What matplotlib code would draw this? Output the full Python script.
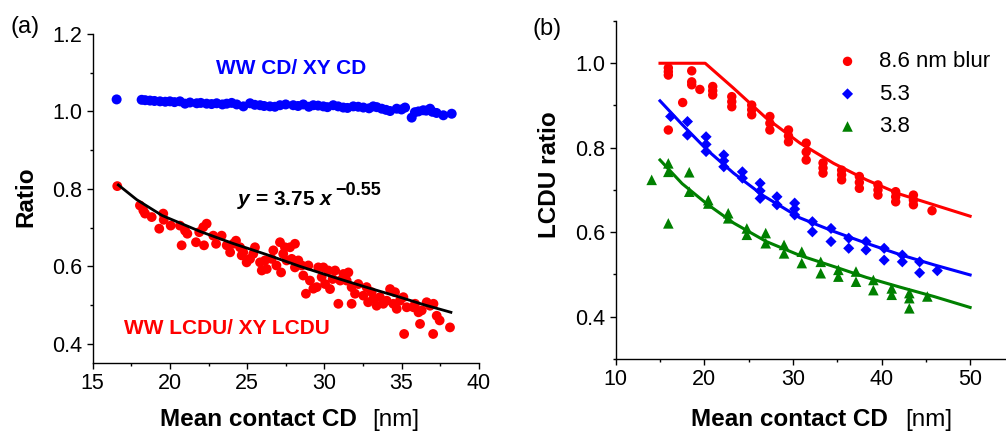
import matplotlib
matplotlib.use("Agg")
import matplotlib.pyplot as plt
from matplotlib.ticker import MultipleLocator

plt.rcParams['font.family'] = ['Liberation Sans', 'DejaVu Sans']
plt.rcParams['mathtext.fontset'] = 'custom'
plt.rcParams['mathtext.rm'] = 'Liberation Sans:bold'
plt.rcParams['mathtext.it'] = 'Liberation Sans:italic:bold'
plt.rcParams['mathtext.bf'] = 'Liberation Sans:bold'

# ---- panel (a) data ----
blue_x = [16.55, 18.17, 18.71, 19.36, 20.0, 20.65, 20.98, 21.74, 22.38, 23.03, 23.68,
          24.33, 24.76, 25.19, 25.84, 26.48, 27.13, 27.99, 28.64, 29.29, 29.94, 30.58,
          31.23, 31.88, 32.53, 33.17, 33.72, 34.26, 34.69, 35.23, 35.66, 35.87, 36.41,
          36.85, 37.27, 37.71, 38.25,
          18.4, 19.0, 19.7, 20.3, 21.3, 22.0, 22.7, 23.4, 24.0, 25.5, 26.1, 26.8, 27.5,
          28.3, 29.0, 29.6, 30.2, 30.9, 31.5, 32.2, 32.9, 33.4, 34.0, 35.0, 36.1, 36.6, 37.0]
blue_y = [1.031, 1.030, 1.028, 1.026, 1.026, 1.026, 1.020, 1.021, 1.020, 1.021, 1.020,
          1.018, 1.013, 1.021, 1.016, 1.013, 1.016, 1.016, 1.018, 1.016, 1.013, 1.016,
          1.010, 1.013, 1.010, 1.013, 1.007, 1.001, 1.007, 1.010, 0.984, 0.998, 1.003,
          1.007, 0.996, 0.990, 0.994,
          1.029, 1.027, 1.025, 1.024, 1.023, 1.022, 1.019, 1.018, 1.022, 1.017, 1.014,
          1.012, 1.018, 1.014, 1.012, 1.015, 1.011, 1.013, 1.009, 1.012, 1.008, 1.011,
          1.004, 1.005, 1.000, 1.002, 0.999]

red_x = [16.59, 18.06, 18.28, 18.39, 18.82, 19.31, 19.57, 19.6, 20.05, 20.65, 20.76,
         20.98, 21.13, 21.69, 21.9, 22.16, 22.38, 22.21, 22.81, 22.99, 23.35, 23.68,
         23.9, 24.1, 24.28, 24.54, 24.65, 24.75, 24.97, 25.19, 25.4, 25.51, 25.84,
         25.95, 26.16, 26.27, 26.59, 26.7, 26.9, 27.13, 27.2, 27.34, 27.45, 27.56,
         27.78, 27.89, 28.1, 28.1, 28.32, 28.54, 28.64, 28.81, 28.97, 29.07, 29.29,
         29.51, 29.61, 29.83, 29.94, 30.05, 30.26, 30.37, 30.54, 30.7, 30.91, 31.03,
         31.24, 31.45, 31.56, 31.77, 31.77, 31.99, 32.2, 32.53, 32.74, 32.84, 33.07,
         33.18, 33.39, 33.6, 33.82, 34.04, 34.26, 34.47, 34.58, 34.69, 34.9, 35.12,
         35.17, 35.34, 35.77, 35.88, 36.1, 36.2, 36.31, 36.63, 36.85, 37.05, 37.07,
         37.28, 37.47, 38.14]
red_y = [0.807, 0.757, 0.744, 0.736, 0.727, 0.697, 0.736, 0.720, 0.705, 0.705, 0.654,
         0.692, 0.684, 0.662, 0.688, 0.701, 0.710, 0.654, 0.679, 0.658, 0.679, 0.654,
         0.636, 0.658, 0.666, 0.649, 0.628, 0.636, 0.610, 0.619, 0.632, 0.649, 0.610,
         0.589, 0.615, 0.593, 0.619, 0.641, 0.602, 0.662, 0.584, 0.632, 0.649, 0.615,
         0.649, 0.619, 0.658, 0.597, 0.615, 0.602, 0.576, 0.529, 0.602, 0.563, 0.542,
         0.546, 0.597, 0.572, 0.597, 0.554, 0.589, 0.541, 0.567, 0.589, 0.503, 0.563,
         0.580, 0.563, 0.584, 0.503, 0.546, 0.529, 0.554, 0.524, 0.546, 0.507, 0.533,
         0.516, 0.498, 0.520, 0.503, 0.511, 0.541, 0.503, 0.533, 0.490, 0.511, 0.520,
         0.425, 0.494, 0.494, 0.503, 0.481, 0.451, 0.486, 0.507, 0.498, 0.425, 0.503,
         0.472, 0.460, 0.442]

fit_x = [16.66, 17.85, 19.5, 21.95, 24.0, 26.27, 28.4, 30.58, 32.7, 34.9, 36.5, 38.2]
fit_y = [0.810, 0.772, 0.731, 0.690, 0.660, 0.630, 0.600, 0.572, 0.546, 0.520, 0.500, 0.481]

# ---- panel (b) data ----
r_x = [15.94, 15.94, 15.94, 15.94, 17.56, 18.58, 18.58, 18.58, 19.5, 20.95, 20.95, 20.95,
       23.1, 23.1, 23.1, 25.35, 25.35, 25.35, 27.4, 27.4, 27.4, 29.5, 29.5, 29.5,
       31.5, 31.5, 31.5, 33.4, 33.4, 33.4, 35.5, 35.5, 35.5, 37.5, 37.5, 37.5,
       39.6, 39.6, 39.6, 41.6, 41.6, 41.6, 43.6, 43.6, 43.6, 45.7]
r_y = [0.989, 0.980, 0.972, 0.842, 0.907, 0.982, 0.956, 0.949, 0.938, 0.945, 0.935, 0.925,
       0.921, 0.909, 0.897, 0.901, 0.890, 0.878, 0.874, 0.858, 0.842, 0.842, 0.828, 0.814,
       0.811, 0.790, 0.771, 0.764, 0.752, 0.740, 0.747, 0.736, 0.724, 0.732, 0.718, 0.704,
       0.712, 0.700, 0.688, 0.696, 0.684, 0.672, 0.688, 0.676, 0.665, 0.651]
b_x = [16.2, 18.1, 18.1, 20.2, 20.2, 20.2, 22.2, 22.2, 22.2, 24.3, 24.3, 26.3, 26.3, 26.3,
       28.2, 28.2, 30.2, 30.2, 30.2, 32.2, 32.2, 34.3, 34.3, 36.3, 36.3, 38.25, 38.25,
       40.3, 40.3, 42.35, 42.35, 44.3, 44.3, 46.3]
b_y = [0.874, 0.862, 0.830, 0.826, 0.808, 0.791, 0.783, 0.769, 0.755, 0.743, 0.728, 0.716,
       0.698, 0.680, 0.684, 0.665, 0.669, 0.655, 0.641, 0.625, 0.601, 0.609, 0.578, 0.586,
       0.562, 0.578, 0.558, 0.562, 0.534, 0.546, 0.530, 0.530, 0.504, 0.509]
g_x = [14.06, 15.94, 15.94, 15.94, 18.3, 18.3, 20.45, 20.45, 22.7, 22.7, 24.8, 24.8,
       26.93, 26.93, 29.0, 29.0, 31.0, 31.0, 33.14, 33.14, 35.13, 35.13, 37.12, 37.12,
       39.08, 39.08, 41.15, 41.15, 43.14, 43.14, 43.14, 45.17]
g_y = [0.724, 0.763, 0.743, 0.621, 0.742, 0.696, 0.676, 0.668, 0.645, 0.633, 0.609, 0.594,
       0.598, 0.574, 0.570, 0.550, 0.554, 0.527, 0.530, 0.503, 0.511, 0.495, 0.507, 0.483,
       0.487, 0.463, 0.467, 0.452, 0.456, 0.444, 0.420, 0.448]

r_fit_x = [15.0, 20.1, 23.3, 27.0, 30.8, 34.6, 38.3, 42.1, 45.9, 50.0]
r_fit_y = [1.000, 1.000, 0.941, 0.870, 0.811, 0.763, 0.724, 0.690, 0.665, 0.638]
b_fit_x = [15.0, 17.5, 20.3, 23.3, 26.7, 30.8, 34.6, 38.3, 42.1, 45.9, 50.0]
b_fit_y = [0.911, 0.855, 0.795, 0.740, 0.686, 0.634, 0.602, 0.574, 0.547, 0.523, 0.499]
g_fit_x = [15.0, 17.5, 20.3, 23.3, 27.0, 30.8, 34.6, 38.3, 42.1, 45.9, 50.0]
g_fit_y = [0.771, 0.715, 0.667, 0.622, 0.578, 0.545, 0.519, 0.493, 0.470, 0.448, 0.422]

legend_labels = ['8.6 nm blur', '5.3', '3.8']

RED, BLUE, GREEN = '#ff0000', '#0000ff', '#008000'

fig = plt.figure(figsize=(10.06, 4.32), dpi=100)
W, H = 1006, 432


def px_axes(l, t, r, b):
    return fig.add_axes([l / W, 1 - b / H, (r - l) / W, (b - t) / H])


def style(ax):
    for s in ('top', 'right'):
        ax.spines[s].set_visible(False)
    for s in ('left', 'bottom'):
        ax.spines[s].set_linewidth(1.0)
    ax.tick_params(which='major', direction='out', length=4.5, width=1.0, labelsize=15.5, pad=3)
    ax.tick_params(which='minor', direction='out', length=2.5, width=1.0)


# panel (a)
ax1 = px_axes(92.7, 34, 478.7, 363)
ax1.scatter(blue_x, blue_y, s=52, color=BLUE, edgecolors='none', zorder=2)
ax1.scatter(red_x, red_y, s=50, color=RED, edgecolors='none', zorder=2)
ax1.plot(fit_x, fit_y, color='black', lw=2.0, zorder=3)
ax1.set_xlim(15, 40)
ax1.set_ylim(0.35, 1.2)
ax1.xaxis.set_major_locator(MultipleLocator(5))
ax1.xaxis.set_minor_locator(MultipleLocator(2.5))
ax1.set_yticks([0.4, 0.6, 0.8, 1.0, 1.2])
ax1.yaxis.set_minor_locator(MultipleLocator(0.1))
style(ax1)
ax1.text(27.84, 1.0975, 'WW CD/ XY CD', color=BLUE, fontsize=15, fontweight='bold',
         ha='center', va='baseline')
ax1.text(23.7, 0.425, 'WW LCDU/ XY LCDU', color=RED, fontsize=15, fontweight='bold',
         ha='center', va='baseline')
eq = ax1.text(24.35, 0.759, r'$y$ = 3.75 $x$', color='black', fontsize=15,
              fontweight='bold', ha='left', va='baseline')
ax1.annotate('\u22120.55', xy=(1, 1), xycoords=eq, xytext=(0.5, 5),
             textcoords='offset points', ha='left', va='top', fontsize=13,
             fontweight='bold')

# panel (b)
ax2 = px_axes(615.7, 21, 1006, 359)
ax2.plot(r_fit_x, r_fit_y, color=RED, lw=2.2, zorder=2)
ax2.plot(b_fit_x, b_fit_y, color=BLUE, lw=2.2, zorder=2)
ax2.plot(g_fit_x, g_fit_y, color=GREEN, lw=2.2, zorder=2)
ax2.scatter(r_x, r_y, s=46, marker='o', color=RED, edgecolors='none', zorder=3,
            label=legend_labels[0])
ax2.scatter(b_x, b_y, s=32, marker='D', color=BLUE, edgecolors='none', zorder=3,
            label=legend_labels[1])
ax2.scatter(g_x, g_y, s=58, marker='^', color=GREEN, edgecolors='none', zorder=3,
            label=legend_labels[2])
ax2.set_xlim(10, 54.05)
ax2.set_ylim(0.3, 1.1)
ax2.set_xticks([10, 20, 30, 40, 50])
ax2.xaxis.set_minor_locator(MultipleLocator(5))
ax2.set_yticks([0.4, 0.6, 0.8, 1.0])
ax2.yaxis.set_minor_locator(MultipleLocator(0.1))
style(ax2)
ax2.legend(loc='upper left', bbox_to_anchor=(0.537, 0.937), frameon=False, fontsize=16,
           handletextpad=0.8, labelspacing=0.52, borderaxespad=0.0, handlelength=1.2)

# axis labels and panel tags
for right, left in ((357, 372), (888, 905)):
    fig.text(right / W, 1 - 426 / H, 'Mean contact CD', fontsize=17.5, fontweight='bold',
             ha='right', va='baseline')
    fig.text(left / W, 1 - 426 / H, '[nm]', fontsize=17.5, ha='left', va='baseline')
fig.text(26 / W, 1 - 197 / H, 'Ratio', fontsize=17.5, fontweight='bold', rotation=90,
         ha='center', va='center')
fig.text(550 / W, 1 - 175 / H, 'LCDU ratio', fontsize=17.5, fontweight='bold', rotation=90,
         ha='center', va='center')
fig.text(10 / W, 1 - 33 / H, '(a)', fontsize=17, ha='left', va='baseline')
fig.text(533 / W, 1 - 35 / H, '(b)', fontsize=17, ha='left', va='baseline')

fig.savefig('out.png', dpi=100)
